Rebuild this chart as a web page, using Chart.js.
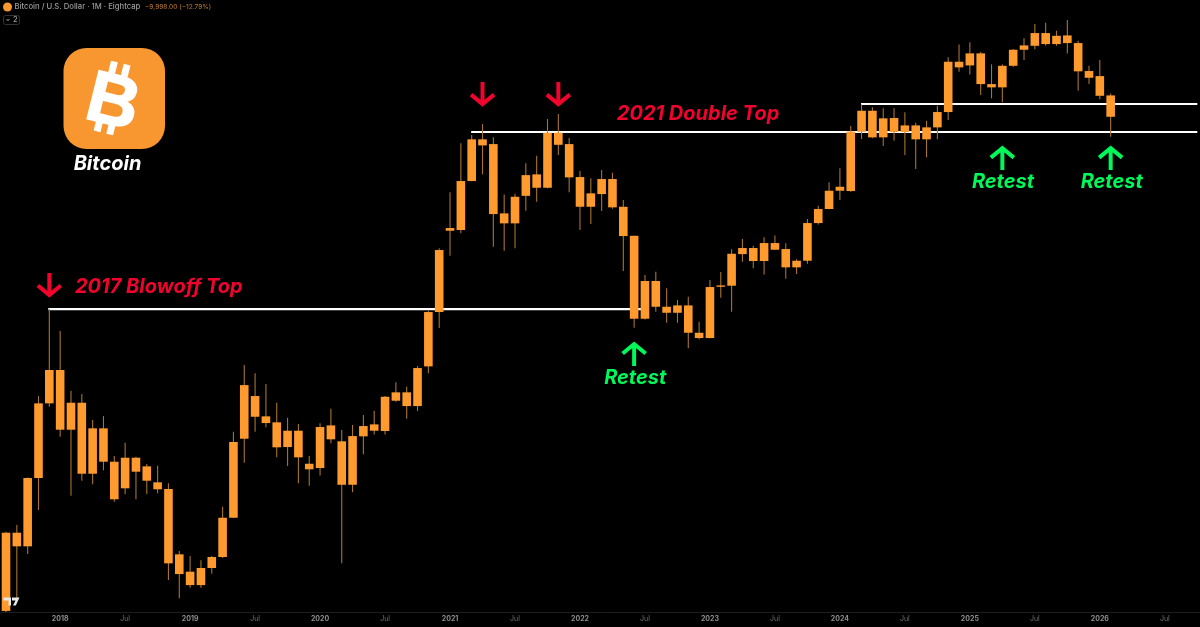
<!DOCTYPE html>
<html><head><meta charset="utf-8">
<style>html,body{margin:0;padding:0;background:#000;overflow:hidden}#w{position:relative;width:1200px;height:627px}</style>
<script src="https://cdn.jsdelivr.net/npm/chart.js@4/dist/chart.umd.min.js"></script>
</head><body><div id="w"><canvas id="c" width="1200" height="627"></canvas></div>
<script>
// monthly candles, Aug 2017 .. Feb 2026
const firstYear = 2017, firstMonth = 8;
const open = [2842,4700,4306,6681,10797,13377,9114,10840,6867,9195,7419,6253,7612,7201,6498,6225,4090,3658,3356,3746,4020,5175,8601,11315,9931,9557,8153,9055,7323,7124,9371,8459,6397,8733,9432,9038,10981,11589,10610,13695,19420,32756,32904,45086,58949,57176,36625,34344,40993,47053,43182,61495,57176,46254,38213,41459,45670,38213,31708,18602,23706,20090,19331,20268,16999,16431,22848,23000,28179,29306,26958,30260,29120,25885,27010,34412,37660,42362,42279,61897,70848,59704,67595,61776,64472,58949,63667,70253,97077,94820,102446,84087,82338,94583,104869,107560,116732,108746,114990,109464,91446,88527,78188];
const high = [4731,4937,6700,11315,19800,17188,11710,11460,9700,9949,7694,8382,7660,7308,7228,6456,4179,4045,3936,4045,5554,8997,13807,13093,12221,10840,9843,9451,7694,9494,10430,9096,9388,10011,10297,11315,12358,12013,13721,19584,29250,41924,57440,60569,65020,59704,41377,41541,50509,53031,67166,69338,59440,48080,45874,48391,47551,39903,31708,24626,25165,22618,20980,21425,18246,23859,25116,29064,31053,29734,31391,31788,30200,27254,35315,38454,44707,48920,64191,73700,72403,71946,71946,70115,65578,66437,73136,99854,108531,109966,103321,95436,95436,105340,112837,123667,124729,118492,126932,111115,94583,98150,79216];
const low = [2823,3089,4098,5439,10563,8711,5960,6566,6414,7020,5737,6014,5826,6026,6054,3468,3083,3300,3300,3610,3995,5170,7371,8997,9254,7631,7215,6456,6356,6795,8349,3860,6094,7778,8844,8844,10910,9781,10277,13093,17521,27882,32206,45000,47053,29548,28804,29250,37251,39467,43000,53262,41924,32904,34186,37178,37732,25279,17555,18500,19458,18128,18128,15378,16295,16400,21290,19458,26835,25721,24740,28934,24058,24789,26487,34119,37600,39903,42088,59062,59326,56446,58421,53262,48702,52500,58949,66737,91032,89500,78331,76724,74772,93991,98150,105140,107560,107560,102446,80569,84087,76235,59930];
const close = [4700,4306,6681,10797,13377,9114,10840,6867,9195,7419,5826,7612,6957,6566,6213,3860,3603,3356,3746,4020,5175,8420,12141,9906,9513,8138,9055,7631,7066,9271,8568,6397,8749,9330,9055,11265,11589,10610,13549,19420,28934,33327,45086,58949,56694,36457,34344,40750,46835,43182,61495,56912,46166,38213,41650,45670,38069,31649,18602,23706,20090,19331,20268,16999,16431,22805,23049,28246,29306,26958,30260,28990,25885,27010,34412,37660,42362,43456,61978,70848,59704,67466,61776,64472,58949,63667,70253,97077,93636,102446,84087,82338,94583,104869,107830,116732,108746,114703,109464,91269,87583,77993,68153];
const categories = open.map((_, i) => {
  const m = firstMonth - 1 + i;
  return (firstYear + Math.floor(m / 12)) + '-' + String(m % 12 + 1).padStart(2, '0');
});
// x axis labels (month index from Aug 2017)
const tickMonths = [5,11,17,23,29,35,41,47,53,59,65,71,77,83,89,95,101,107];
const tickLabels = ['2018','Jul','2019','Jul','2020','Jul','2021','Jul','2022','Jul','2023','Jul','2024','Jul','2025','Jul','2026','Jul'];
// horizontal levels
const levelPrice = [19800, 61800, 73980];
const levelFrom = [3.9, 42.95, 78.95];
const levelTo = [59, 110, 110];
// markers (month index, price at the tip)
const downArrowMonth = [4, 44, 51];
const downArrowPrice = [21385, 73000, 73000];
const upArrowMonth = [58, 92, 102];
const upArrowPrice = [16013, 56446, 56446];
const noteText = ['2017 Blowoff Top', '2021 Double Top'];
const noteMonth = [6.37, 56.4];
const notePrice = [22800, 69500];
const retestText = ['Retest', 'Retest', 'Retest'];
const retestMonth = [58.1, 92.06, 102.1];
const retestPrice = [12700, 44800, 44800];

const ORANGE = '#FF9B2E', WICK = '#A8732F', RED = '#F0042E', GREEN = '#00F85A';
const UI = 'Inter, "Liberation Sans", sans-serif';

const overlay = {
  id: 'overlay',
  afterDatasetsDraw(chart) {
    const { ctx, scales: { x, y } } = chart;
    const arrow = (px, py, dir, col) => {
      const L = 24, H = 11.5, HH = 11.5;
      ctx.save();
      ctx.strokeStyle = col; ctx.lineWidth = 4; ctx.lineCap = 'butt'; ctx.lineJoin = 'miter';
      ctx.beginPath();
      ctx.moveTo(px, py - dir * L); ctx.lineTo(px, py - dir * 2);
      ctx.moveTo(px - H, py - dir * HH); ctx.lineTo(px, py - dir * 2); ctx.lineTo(px + H, py - dir * HH);
      ctx.stroke();
      ctx.restore();
    };
    downArrowMonth.forEach((m, i) => arrow(x.getPixelForValue(m), y.getPixelForValue(downArrowPrice[i]), 1, RED));
    upArrowMonth.forEach((m, i) => arrow(x.getPixelForValue(m), y.getPixelForValue(upArrowPrice[i]), -1, GREEN));
    ctx.save();
    ctx.textBaseline = 'middle';
    ctx.font = 'italic 700 20px ' + UI;
    ctx.fillStyle = RED; ctx.textAlign = 'left';
    noteText.forEach((t, i) => ctx.fillText(t, x.getPixelForValue(noteMonth[i]), y.getPixelForValue(notePrice[i])));
    ctx.fillStyle = GREEN; ctx.textAlign = 'center';
    retestText.forEach((t, i) => ctx.fillText(t, x.getPixelForValue(retestMonth[i]), y.getPixelForValue(retestPrice[i])));

    // logo
    ctx.fillStyle = '#F8962F';
    ctx.beginPath(); ctx.roundRect(63.5, 48, 101.5, 101, 23); ctx.fill();
    ctx.save();
    ctx.translate(114, 98.5); ctx.rotate(14 * Math.PI / 180);
    ctx.fillStyle = '#fff'; ctx.textAlign = 'center'; ctx.textBaseline = 'alphabetic';
    ctx.font = '700 72px "Liberation Sans", sans-serif';
    ctx.strokeStyle = '#fff'; ctx.lineWidth = 1.5;
    ctx.fillText('B', 0, 26);
    ctx.strokeText('B', 0, 26);
    [[-12, -36], [1, -36], [-12, 24], [1, 24]].forEach(r => ctx.fillRect(r[0], r[1], 7, 12));
    ctx.restore();
    ctx.fillStyle = '#fff'; ctx.textAlign = 'center';
    ctx.font = 'italic 700 20px ' + UI;
    ctx.fillText('Bitcoin', 107.5, 163.5);

    // header
    ctx.fillStyle = '#F8962F';
    ctx.beginPath(); ctx.arc(7.5, 7, 4.5, 0, Math.PI * 2); ctx.fill();
    ctx.textAlign = 'left';
    ctx.font = '500 7.7px ' + UI;
    ctx.fillStyle = '#9B9B9B';
    ctx.fillText('Bitcoin / U.S. Dollar \u00B7 1M \u00B7 Eightcap', 14.5, 7);
    ctx.fillStyle = '#A86F26';
    ctx.font = '500 6.5px ' + UI;
    ctx.fillText('\u22129,998.00 (\u221212.79%)', 145, 7);
    ctx.strokeStyle = '#333'; ctx.lineWidth = 1;
    ctx.beginPath(); ctx.roundRect(3.5, 15.5, 16, 9, 2); ctx.stroke();
    ctx.strokeStyle = '#999';
    ctx.beginPath(); ctx.moveTo(6.5, 19); ctx.lineTo(8, 20.8); ctx.lineTo(9.5, 19); ctx.stroke();
    ctx.fillStyle = '#9B9B9B'; ctx.font = '500 7.5px ' + UI;
    ctx.fillText('2', 13, 20);

    // watermark
    ctx.fillStyle = '#E8E8E8';
    ctx.beginPath();
    ctx.moveTo(3.5, 597.5); ctx.lineTo(11, 597.5); ctx.lineTo(11, 605.5); ctx.lineTo(8.5, 605.5); ctx.lineTo(8.5, 600.5); ctx.lineTo(3.5, 600.5); ctx.closePath();
    ctx.moveTo(12, 597.5); ctx.lineTo(19.5, 597.5); ctx.lineTo(15.8, 605.5); ctx.lineTo(13, 605.5); ctx.lineTo(15.5, 600.5); ctx.lineTo(12, 600.5); ctx.closePath();
    ctx.fill();
    ctx.restore();
  }
};

new Chart(document.getElementById('c'), {
  type: 'bar',
  plugins: [overlay],
  data: {
    datasets: [
      ...levelPrice.map((p, i) => ({
        type: 'line', order: 5, borderColor: '#FFFFFF', borderWidth: 2.2, pointRadius: 0, tension: 0,
        label: 'Level ' + (i + 1),
        data: [{ x: levelFrom[i], y: p }, { x: levelTo[i], y: p }]
      })),
      { label: 'High-Low', order: 2, grouped: false, barThickness: 1.1, inflateAmount: 0, backgroundColor: WICK,
        data: categories.map((_, i) => ({ x: i, y: [low[i], high[i]] })) },
      { label: 'Open-Close', order: 1, grouped: false, barThickness: 8.6, inflateAmount: 0, backgroundColor: ORANGE,
        data: categories.map((_, i) => ({ x: i, y: [open[i], close[i]] })) }
    ]
  },
  options: {
    responsive: false, animation: false, devicePixelRatio: 1,
    layout: { padding: 0 },
    plugins: { legend: { display: false }, tooltip: { enabled: false } },
    scales: {
      x: {
        type: 'linear', min: -0.554, max: 110.25, offset: false,
        grid: { display: false, drawTicks: false },
        border: { display: true, color: '#1E1E1E', width: 1 },
        afterBuildTicks: s => { s.ticks = tickMonths.map(v => ({ value: v })); },
        afterFit: s => { s.height = 15; },
        ticks: {
          autoSkip: false, maxRotation: 0, minRotation: 0, padding: 3,
          color: c => (c.tick && tickLabels[tickMonths.indexOf(c.tick.value)] === 'Jul') ? '#6E6E6E' : '#8E8E8E',
          font: c => ({ family: UI, size: 7, weight: (c.tick && tickLabels[tickMonths.indexOf(c.tick.value)] === 'Jul') ? '400' : '700' }),
          callback: v => tickLabels[tickMonths.indexOf(v)]
        }
      },
      y: { type: 'logarithmic', display: false, min: 2823, max: 144390 }
    }
  }
});
</script></body></html>
